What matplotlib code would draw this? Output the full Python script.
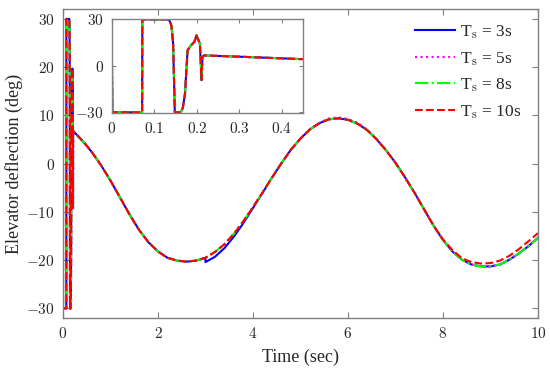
import matplotlib
matplotlib.use("Agg")
import matplotlib.pyplot as plt
from matplotlib.ticker import FuncFormatter

plt.rcParams['mathtext.fontset'] = 'cm'
plt.rcParams['font.family'] = ['Liberation Serif', 'DejaVu Serif']

# ---- data ----
# initial saturated chattering phase (identical for all series)
t_init = [0.0, 0.001, 0.071, 0.0715, 0.134, 0.140, 0.144, 0.148, 0.162, 0.167,
          0.172, 0.178, 0.186, 0.194, 0.199, 0.207, 0.211, 0.213, 0.217, 0.22]
v_init = [0.0, -30, -30, 30, 30, 26, 14.4, -30, -30, -27,
          -17.8, 10, 13.3, 15.4, 19.7, 14.4, -9.2, 5.8, 6.8, 6.7]

# smooth phase
t_main = [0.3, 0.45, 0.6, 0.8, 1.0, 1.2, 1.4, 1.6, 1.8, 2.0, 2.2, 2.4, 2.6, 2.8,
          3.0, 3.0, 3.2, 3.4, 3.6, 3.8, 4.0, 4.2, 4.4, 4.6, 4.8, 5.0, 5.2, 5.4,
          5.6, 5.8, 6.0, 6.2, 6.4, 6.6, 6.8, 7.0, 7.2, 7.4, 7.6, 7.8, 8.0, 8.2,
          8.4, 8.6, 8.8, 9.0, 9.2, 9.4, 9.6, 9.8, 10.0]

v_8s = [5.9, 4.3, 2.5, -0.3, -3.5, -7.0, -10.5, -13.7, -16.3, -18.2, -19.5, -20.1, -20.3, -20.1,
        -19.5, -19.5, -18.3, -16.7, -14.5, -11.9, -9.0, -6.0, -2.9, 0.1, 2.9, 5.2, 7.1, 8.4,
        9.2, 9.4, 9.1, 8.3, 7.0, 5.1, 2.8, 0.2, -2.8, -6.0, -9.4, -12.8, -15.8, -18.2,
        -19.9, -20.9, -21.3, -21.3, -20.9, -19.9, -18.6, -17.1, -15.4]

v_3s = [5.9, 4.3, 2.5, -0.3, -3.5, -7.0, -10.5, -13.7, -16.3, -18.2, -19.5, -20.1, -20.3, -20.1,
        -19.5, -20.4, -19.3, -17.5, -15.1, -12.3, -9.2, -6.1, -2.9, 0.1, 2.9, 5.2, 7.1, 8.4,
        9.2, 9.4, 9.1, 8.3, 7.0, 5.1, 2.8, 0.2, -2.8, -6.0, -9.4, -12.8, -15.8, -18.2,
        -19.9, -20.9, -21.3, -21.3, -20.9, -19.9, -18.6, -17.1, -15.4]

v_5s = [5.9, 4.3, 2.5, -0.3, -3.5, -7.0, -10.5, -13.7, -16.3, -18.2, -19.5, -20.1, -20.3, -20.1,
        -19.5, -19.5, -18.3, -16.7, -14.5, -11.9, -9.0, -6.0, -2.9, 0.1, 2.9, 5.2, 7.2, 8.5,
        9.4, 9.6, 9.3, 8.5, 7.1, 5.2, 2.8, 0.2, -2.8, -6.0, -9.4, -12.8, -15.8, -18.2,
        -19.9, -20.9, -21.3, -21.3, -20.9, -19.9, -18.6, -17.1, -15.4]

v_10s = [5.9, 4.3, 2.5, -0.3, -3.5, -7.0, -10.5, -13.7, -16.3, -18.2, -19.5, -20.1, -20.3, -20.1,
         -19.5, -19.5, -18.3, -16.7, -14.5, -11.9, -9.0, -6.0, -2.9, 0.1, 2.9, 5.2, 7.1, 8.4,
         9.2, 9.4, 9.1, 8.3, 7.0, 5.1, 2.8, 0.2, -2.8, -6.0, -9.4, -12.8, -15.7, -17.9,
         -19.6, -20.4, -20.7, -20.6, -20.1, -19.1, -17.7, -16.1, -14.4]

labels = [r'T$_\mathrm{s}$ = 3s', r'T$_\mathrm{s}$ = 5s', r'T$_\mathrm{s}$ = 8s', r'T$_\mathrm{s}$ = 10s']
series = [v_3s, v_5s, v_8s, v_10s]
colors = ['#0000ff', '#ff00ff', '#00ff00', '#ff0000']
styles = ['-', ':', '-.', '--']

x_ticks = [0, 2, 4, 6, 8, 10]
y_ticks = [-30, -20, -10, 0, 10, 20, 30]
inset_x_ticks = [0, 0.1, 0.2, 0.3, 0.4]
inset_y_ticks = [-30, 0, 30]

# ---- figure ----
fig = plt.figure(figsize=(5.5, 3.72), dpi=100)
ax = fig.add_axes([0.1145, 0.145, 0.8635, 0.83])

spine_col = '#808080'
txt_col = '#262626'

def mfmt(v, pos):
    return r'$%g$' % v

for vals, c, ls, lab in zip(series, colors, styles, labels):
    ax.plot(t_init + t_main, v_init + vals, color=c, linestyle=ls, lw=1.5, label=lab)

ax.set_xlim(0, 10)
ax.set_ylim(-32, 32)
ax.set_xticks(x_ticks)
ax.set_yticks(y_ticks)
ax.xaxis.set_major_formatter(FuncFormatter(mfmt))
ax.yaxis.set_major_formatter(FuncFormatter(mfmt))
ax.tick_params(direction='in', top=True, right=True, labelsize=11, colors=spine_col,
               labelcolor=txt_col, length=4, pad=6)
for s in ax.spines.values():
    s.set_color(spine_col)
    s.set_linewidth(1.0)
ax.set_xlabel('Time (sec)', fontsize=13, color=txt_col, labelpad=5)
ax.set_ylabel('Elevator deflection (deg)', fontsize=13, color=txt_col, labelpad=2)

leg = ax.legend(loc='upper right', frameon=False, fontsize=12.5, handlelength=2.3,
                handletextpad=0.3, labelspacing=0.5, borderaxespad=0.3,
                bbox_to_anchor=(0.99, 0.995))
for t in leg.get_texts():
    t.set_color(txt_col)

# ---- inset ----
axin = fig.add_axes([0.2036, 0.696, 0.3474, 0.254])
for vals, c, ls in zip(series, colors, styles):
    axin.plot(t_init + t_main, v_init + vals, color=c, linestyle=ls, lw=1.5)
axin.set_xlim(0, 0.45)
axin.set_ylim(-30.5, 30.5)
axin.set_xticks(inset_x_ticks)
axin.set_yticks(inset_y_ticks)
axin.xaxis.set_major_formatter(FuncFormatter(mfmt))
axin.yaxis.set_major_formatter(FuncFormatter(mfmt))
axin.tick_params(direction='in', top=True, right=True, labelsize=11, colors=spine_col,
                 labelcolor=txt_col, length=3, pad=6)
for s in axin.spines.values():
    s.set_color(spine_col)
    s.set_linewidth(1.0)

fig.savefig('out.png', dpi=100)
